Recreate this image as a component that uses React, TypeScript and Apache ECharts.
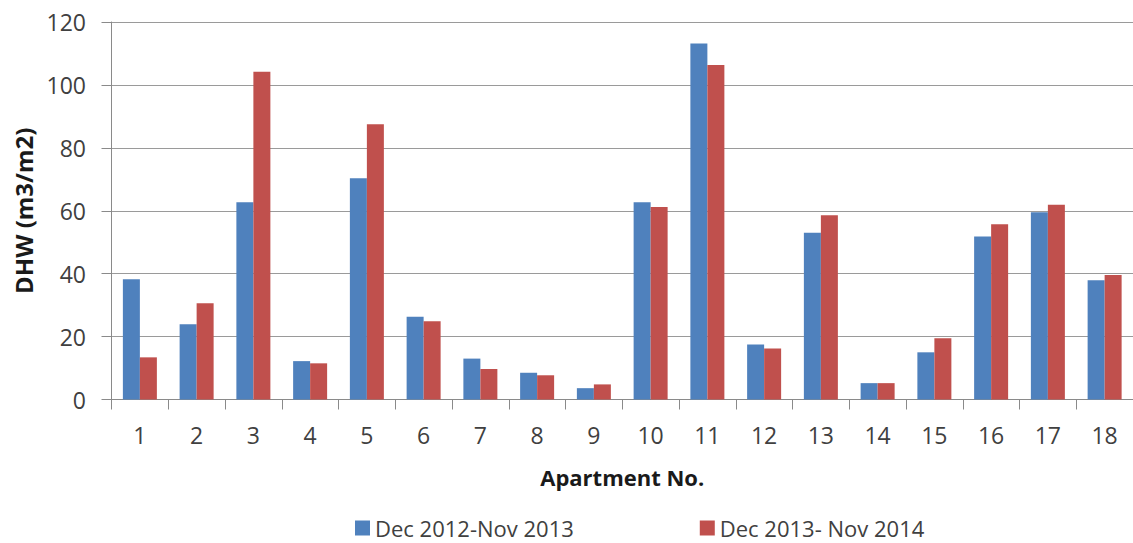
import React, { useEffect, useRef } from "react";
import * as echarts from "echarts";

const categories = ["1","2","3","4","5","6","7","8","9","10","11","12","13","14","15","16","17","18"];
const series2013 = [38.2, 23.9, 62.7, 12.2, 70.3, 26.3, 13.0, 8.5, 3.6, 62.7, 113.2, 17.5, 53.0, 5.2, 15.0, 51.8, 59.5, 37.9];
const series2014 = [13.4, 30.6, 104.2, 11.5, 87.5, 24.9, 9.7, 7.7, 4.8, 61.2, 106.3, 16.2, 58.6, 5.2, 19.5, 55.7, 61.9, 39.6];
const seriesNames = ["Dec 2012-Nov 2013", "Dec 2013- Nov 2014"];

const FONT = "'Open Sans', 'Noto Sans', sans-serif";

export default function App() {
  const ref = useRef<HTMLDivElement>(null);
  useEffect(() => {
    document.body.style.margin = "0";
    if (!ref.current) return;
    const chart = echarts.init(ref.current, undefined, { renderer: "svg" });
    chart.setOption({
      animation: false,
      backgroundColor: "#ffffff",
      textStyle: { fontFamily: FONT },
      grid: { left: 111.5, right: -6.5, top: 22, bottom: 143.5, containLabel: false },
      legend: {
        left: 355,
        top: 517,
        padding: 0,
        itemWidth: 15,
        itemHeight: 15,
        itemGap: 126,
        icon: "rect",
        textStyle: { fontFamily: FONT, fontSize: 22, lineHeight: 22, color: "#404040" },
        data: seriesNames,
      },
      xAxis: {
        type: "category",
        data: categories,
        name: "Apartment No.",
        nameLocation: "middle",
        nameGap: 66,
        nameTextStyle: { fontFamily: FONT, fontSize: 22, fontWeight: "bold", color: "#1a1a1a" },
        axisLine: { lineStyle: { color: "#8a8a8a", width: 1 } },
        axisTick: { show: true, length: 10, lineStyle: { color: "#8a8a8a" } },
        axisLabel: { fontFamily: FONT, fontSize: 23, color: "#404040", margin: 24 },
        splitLine: { show: false },
      },
      yAxis: {
        type: "value",
        min: 0,
        max: 120,
        interval: 20,
        name: "DHW (m3/m2)",
        nameLocation: "middle",
        nameRotate: 90,
        nameGap: 76,
        nameTextStyle: { fontFamily: FONT, fontSize: 24, fontWeight: "bold", color: "#1a1a1a" },
        axisLine: { show: true, lineStyle: { color: "#8a8a8a", width: 1 } },
        axisTick: { show: true, length: 10, lineStyle: { color: "#8a8a8a" } },
        axisLabel: { fontFamily: FONT, fontSize: 23, color: "#404040", margin: 25.5 },
        splitLine: { show: true, lineStyle: { color: "#9a9a9a", width: 1 } },
      },
      series: [
        {
          name: seriesNames[0],
          type: "bar",
          data: series2013,
          barWidth: 17,
          barGap: "0%",
          itemStyle: { color: "#4F81BD" },
        },
        {
          name: seriesNames[1],
          type: "bar",
          data: series2014,
          barWidth: 17,
          barGap: "0%",
          itemStyle: { color: "#C0504D" },
        },
      ],
    });
    return () => chart.dispose();
  }, []);
  return <div ref={ref} style={{ width: 1133, height: 543 }} />;
}
